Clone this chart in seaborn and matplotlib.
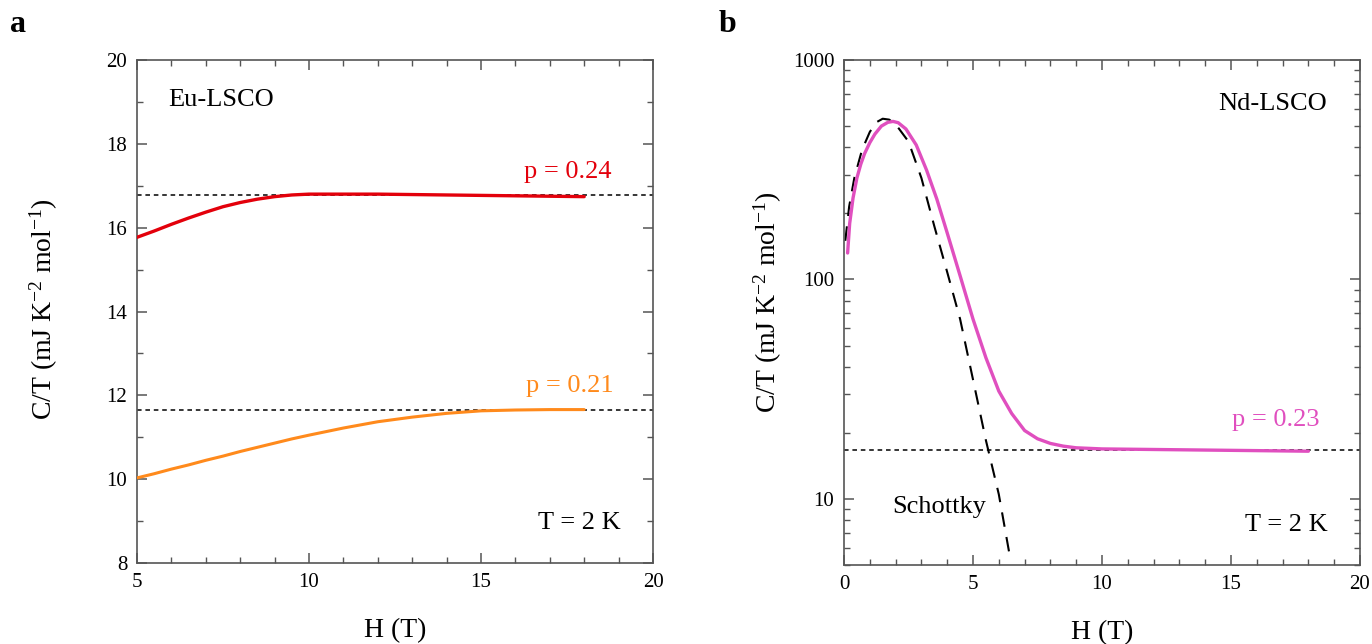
import numpy as np
import pandas as pd
import matplotlib
matplotlib.use("Agg")
import matplotlib.pyplot as plt
import seaborn as sns
from matplotlib.ticker import MultipleLocator, FixedLocator, LogLocator, NullFormatter, FuncFormatter

# ---- data ----
# panel a: Eu-LSCO
h_eu = [5, 5.5, 6, 6.5, 7, 7.5, 8, 8.5, 9, 9.5, 10, 11, 12, 13, 14, 15, 16, 17, 18]
ct_p24 = [15.77, 15.92, 16.08, 16.23, 16.37, 16.5, 16.6, 16.68, 16.74, 16.78, 16.8, 16.8, 16.8,
          16.79, 16.78, 16.77, 16.76, 16.75, 16.74]
ct_p21 = [10.03, 10.13, 10.24, 10.34, 10.45, 10.55, 10.66, 10.76, 10.86, 10.96, 11.05, 11.22, 11.37,
          11.48, 11.57, 11.63, 11.65, 11.66, 11.66]
ref_eu = [16.79, 11.66]

# panel b: Nd-LSCO
h_nd = [0.14, 0.22, 0.35, 0.5, 0.65, 0.8, 1.0, 1.2, 1.45, 1.7, 1.9, 2.1, 2.4, 2.8, 3.2, 3.6, 4.0, 4.5,
        5.0, 5.5, 6.0, 6.5, 7.0, 7.5, 8.0, 8.5, 9.0, 10, 12, 14, 16, 18]
ct_p23 = [132, 180, 235, 290, 335, 375, 420, 460, 500, 520, 525, 518, 485, 410, 315, 232, 163, 104,
          66, 44, 31, 24.5, 20.5, 18.8, 17.9, 17.4, 17.1, 16.9, 16.8, 16.7, 16.6, 16.5]
ref_nd = [16.7]
h_sch = [0.05, 0.2, 0.4, 0.7, 1.0, 1.25, 1.5, 1.75, 2.0, 2.5, 3.0, 3.5, 4.0, 4.5, 5.0, 5.5, 6.0, 6.45]
ct_sch = [150, 215, 290, 390, 470, 520, 540, 535, 510, 425, 290, 175, 108, 66, 35, 18.5, 10.5, 5.3]

sns.set_style("white")
plt.rcParams['font.family'] = ['Liberation Serif', 'DejaVu Serif']
plt.rcParams['mathtext.fontset'] = 'custom'
plt.rcParams['mathtext.rm'] = 'Liberation Serif'
plt.rcParams['mathtext.it'] = 'Liberation Serif:italic'
plt.rcParams['text.color'] = 'black'
plt.rcParams['axes.labelcolor'] = 'black'
plt.rcParams['xtick.labelcolor'] = 'black'
plt.rcParams['ytick.labelcolor'] = 'black'

RED = '#e3000b'
ORANGE = '#ff8a1c'
MAGENTA = '#e04fbf'
GREY = '#555555'
FS = 19

fig = plt.figure(figsize=(13.72, 6.44), dpi=100)
ax1 = fig.add_axes([137 / 1372, 1 - 563 / 644, 516 / 1372, 503 / 644])
ax2 = fig.add_axes([844 / 1372, 1 - 565 / 644, 516 / 1372, 505 / 644])

# panel a
df_eu = pd.DataFrame({'H': h_eu, 'p24': ct_p24, 'p21': ct_p21})
for y in ref_eu:
    ax1.axhline(y, color='black', lw=1.1, ls=(0, (3, 2.5)), zorder=1)
sns.lineplot(data=df_eu, x='H', y='p24', ax=ax1, color=RED, lw=2.4, zorder=3)
sns.lineplot(data=df_eu, x='H', y='p21', ax=ax1, color=ORANGE, lw=2.2, zorder=3)
ax1.set_xlim(5, 20)
ax1.set_ylim(8, 20)
ax1.xaxis.set_major_locator(MultipleLocator(5))
ax1.xaxis.set_minor_locator(MultipleLocator(1))
ax1.yaxis.set_major_locator(MultipleLocator(2))
ax1.yaxis.set_minor_locator(MultipleLocator(1))

ax1.text(0.163, 0.92, 'Eu-LSCO', transform=ax1.transAxes, ha='center', va='center', fontsize=FS)
ax1.text(0.835, 0.777, 'p = 0.24', transform=ax1.transAxes, ha='center', va='center', fontsize=FS, color=RED)
ax1.text(0.839, 0.352, 'p = 0.21', transform=ax1.transAxes, ha='center', va='center', fontsize=FS, color=ORANGE)
ax1.text(0.857, 0.08, 'T = 2 K', transform=ax1.transAxes, ha='center', va='center', fontsize=FS)

# panel b
df_nd = pd.DataFrame({'H': h_nd, 'ct': ct_p23})
df_sch = pd.DataFrame({'H': h_sch, 'ct': ct_sch})
for y in ref_nd:
    ax2.axhline(y, color='black', lw=1.1, ls=(0, (3, 2.5)), zorder=1)
sns.lineplot(data=df_sch, x='H', y='ct', ax=ax2, color='black', lw=1.5, ls=(0, (7, 5)), zorder=2)
sns.lineplot(data=df_nd, x='H', y='ct', ax=ax2, color=MAGENTA, lw=2.4, zorder=3)
ax2.set_yscale('log')
ax2.set_xlim(0, 20)
ax2.set_ylim(5, 1000)
ax2.xaxis.set_major_locator(MultipleLocator(5))
ax2.xaxis.set_minor_locator(MultipleLocator(1))
ax2.yaxis.set_major_locator(FixedLocator([10, 100, 1000]))
ax2.yaxis.set_minor_locator(LogLocator(base=10, subs=np.arange(2, 10)))
ax2.yaxis.set_major_formatter(FuncFormatter(lambda v, _: f'{v:g}'))
ax2.yaxis.set_minor_formatter(NullFormatter())

ax2.text(0.831, 0.913, 'Nd-LSCO', transform=ax2.transAxes, ha='center', va='center', fontsize=FS)
ax2.text(0.837, 0.287, 'p = 0.23', transform=ax2.transAxes, ha='center', va='center', fontsize=FS, color=MAGENTA)
ax2.text(0.184, 0.115, 'Schottky', transform=ax2.transAxes, ha='center', va='center', fontsize=FS)
ax2.text(0.857, 0.079, 'T = 2 K', transform=ax2.transAxes, ha='center', va='center', fontsize=FS)

ylab = r'C/T (mJ K$^{-2}$ mol$^{-1}$)'
for ax, ylx, yly in [(ax1, -0.149, 0.505), (ax2, -0.116, 0.52)]:
    ax.set_xlabel('H (T)', fontsize=20)
    ax.set_ylabel(ylab, fontsize=20)
    ax.xaxis.set_label_coords(0.5, -0.11)
    ax.yaxis.set_label_coords(ylx, yly)
    ax.tick_params(which='both', direction='in', top=True, right=True, bottom=True, left=True,
                   color=GREY, labelcolor='black', labelsize=15, pad=7)
    ax.tick_params(which='major', length=7, width=1.1)
    ax.tick_params(which='minor', length=4, width=1.0)
    for s in ax.spines.values():
        s.set_color(GREY)
        s.set_linewidth(1.2)

fig.text(0.013, 0.962, 'a', fontsize=23, fontweight='bold', ha='center', va='center')
fig.text(0.530, 0.962, 'b', fontsize=23, fontweight='bold', ha='center', va='center')

fig.savefig('out.png', dpi=100)
